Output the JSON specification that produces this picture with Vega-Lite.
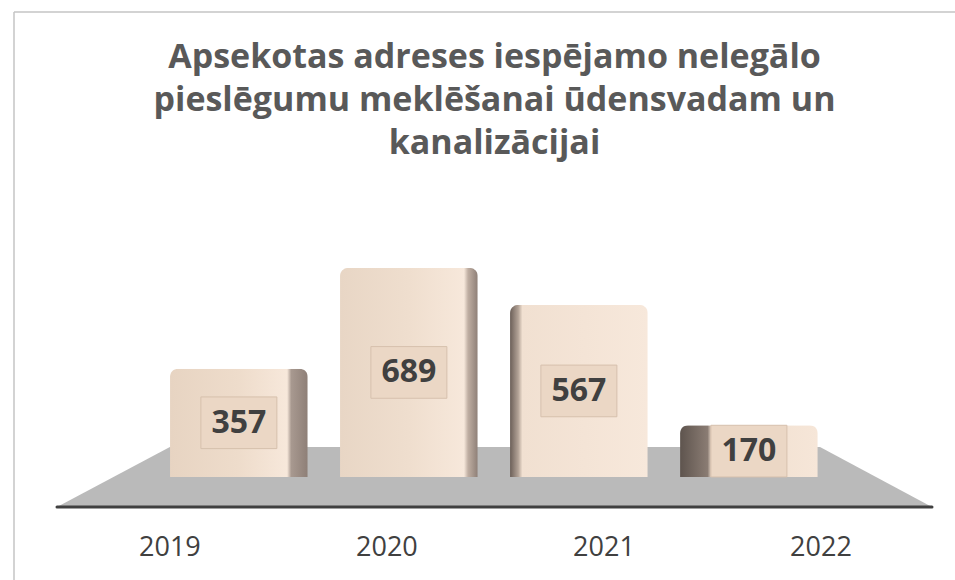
{
  "$schema": "https://vega.github.io/schema/vega-lite/v6.json",
  "width": 941,
  "height": 568,
  "autosize": {"type": "none"},
  "padding": {"left": 14, "top": 12, "right": 0, "bottom": 0},
  "background": "white",
  "config": {"view": {"stroke": null}},
  "title": {
    "text": ["Apsekotas adreses iespējamo nelegālo", "pieslēgumu meklēšanai ūdensvadam un", "kanalizācijai"],
    "font": "Open Sans",
    "fontSize": 34,
    "fontWeight": "bold",
    "color": "#595959",
    "lineHeight": 43,
    "anchor": "middle",
    "frame": "group",
    "offset": -150,
    "dx": 10
  },
  "data": {"values": [
    {"year": "2019", "value": 357},
    {"year": "2020", "value": 689},
    {"year": "2021", "value": 567},
    {"year": "2022", "value": 170}
  ]},
  "resolve": {"scale": {"x": "independent"}, "axis": {"x": "independent"}},
  "layer": [
    {
      "data": {"values": [{"part": "floor"}]},
      "mark": {"type": "point", "shape": "M-1,0.0686L-0.742,-0.0686L0.744,-0.0686L1,0.0686Z", "size": 765625, "filled": true, "fill": "#BABABA", "opacity": 1, "strokeWidth": 0, "xOffset": 10},
      "encoding": {"y": {"datum": 0, "type": "quantitative", "scale": {"domain": [-340, 1533], "nice": false, "zero": false}, "axis": null}}
    },
    {
      "data": {"values": [{"part": "frame-top"}]},
      "mark": {"type": "rule", "stroke": "#C4C4C4", "strokeWidth": 1.5},
      "encoding": {"y": {"datum": 1533, "type": "quantitative", "axis": null}}
    },
    {
      "data": {"values": [{"part": "frame-left"}]},
      "mark": {"type": "rule", "stroke": "#C4C4C4", "strokeWidth": 1.5},
      "encoding": {"x": {"datum": 0, "type": "quantitative", "scale": {"domain": [0, 1], "nice": false}, "axis": null}}
    },
    {
      "data": {"values": [{"part": "baseline"}]},
      "mark": {"type": "point", "shape": "M-1,0L1,0", "size": 765625, "filled": false, "stroke": "#404040", "strokeWidth": 3, "opacity": 1, "strokeCap": "round", "xOffset": 10},
      "encoding": {"y": {"datum": -99, "type": "quantitative", "axis": null}}
    },
    {
      "mark": {"type": "bar", "cornerRadiusTopLeft": 8, "cornerRadiusTopRight": 8},
      "encoding": {
        "x": {"field": "year", "type": "nominal", "scale": {"type": "band", "paddingInner": 0.19, "paddingOuter": 0.8625, "align": 0.532}, "axis": null},
        "y": {"field": "value", "type": "quantitative", "axis": null},
        "color": {
          "condition": [
            {"test": "datum.year === '2019'", "value": {"gradient": "linear", "x1": 0, "y1": 0, "x2": 1, "y2": 0, "stops": [
              {"offset": 0, "color": "#E7D4C2"}, {"offset": 0.5, "color": "#EEDCCB"}, {"offset": 0.85, "color": "#F7E8DB"}, {"offset": 0.88, "color": "#A89990"}, {"offset": 1, "color": "#8E7F77"}]}},
            {"test": "datum.year === '2020'", "value": {"gradient": "linear", "x1": 0, "y1": 0, "x2": 1, "y2": 0, "stops": [
              {"offset": 0, "color": "#E8D6C5"}, {"offset": 0.5, "color": "#EFDECE"}, {"offset": 0.9, "color": "#F7E8DB"}, {"offset": 0.93, "color": "#BFAEA2"}, {"offset": 1, "color": "#8E7F77"}]}},
            {"test": "datum.year === '2021'", "value": {"gradient": "linear", "x1": 0, "y1": 0, "x2": 1, "y2": 0, "stops": [
              {"offset": 0, "color": "#6B5F58"}, {"offset": 0.06, "color": "#B3A397"}, {"offset": 0.09, "color": "#F1E0D1"}, {"offset": 1, "color": "#F7E8DB"}]}}
          ],
          "value": {"gradient": "linear", "x1": 0, "y1": 0, "x2": 1, "y2": 0, "stops": [
            {"offset": 0, "color": "#5E544E"}, {"offset": 0.2, "color": "#8A7C73"}, {"offset": 0.23, "color": "#EEDDCD"}, {"offset": 1, "color": "#F6E6D8"}]}
        }
      }
    },
    {
      "transform": [{"calculate": "datum.value / 2", "as": "mid"}],
      "mark": {"type": "point", "shape": "M-1,-0.68H1V0.68H-1Z", "size": 5776, "filled": true, "fill": "#EBD7C5", "stroke": "#D6C0AD", "strokeWidth": 1, "opacity": 1},
      "encoding": {
        "x": {"field": "year", "type": "nominal", "scale": {"type": "band", "paddingInner": 0.19, "paddingOuter": 0.8625, "align": 0.532}, "axis": null},
        "y": {"field": "mid", "type": "quantitative", "axis": null}
      }
    },
    {
      "transform": [{"calculate": "datum.value / 2", "as": "mid"}],
      "mark": {"type": "text", "font": "Open Sans", "fontSize": 32, "fontWeight": "bold", "color": "#404040", "baseline": "middle", "align": "center"},
      "encoding": {
        "x": {"field": "year", "type": "nominal", "scale": {"type": "band", "paddingInner": 0.19, "paddingOuter": 0.8625, "align": 0.532}, "axis": null},
        "y": {"field": "mid", "type": "quantitative", "axis": null},
        "text": {"field": "value", "type": "quantitative"}
      }
    },
    {
      "mark": {"type": "point", "opacity": 0},
      "encoding": {
        "x": {"field": "year", "type": "nominal", "scale": {"type": "band", "paddingInner": 0, "paddingOuter": 0.168, "align": 0.65},
          "axis": {"title": null, "orient": "bottom", "offset": -73, "domain": false, "ticks": false, "tickSize": 0, "labelPadding": 27, "labelAngle": 0, "labelFont": "Open Sans", "labelFontSize": 27, "labelColor": "#404040", "grid": false}},
        "y": {"datum": 0, "type": "quantitative", "axis": null}
      }
    }
  ]
}
